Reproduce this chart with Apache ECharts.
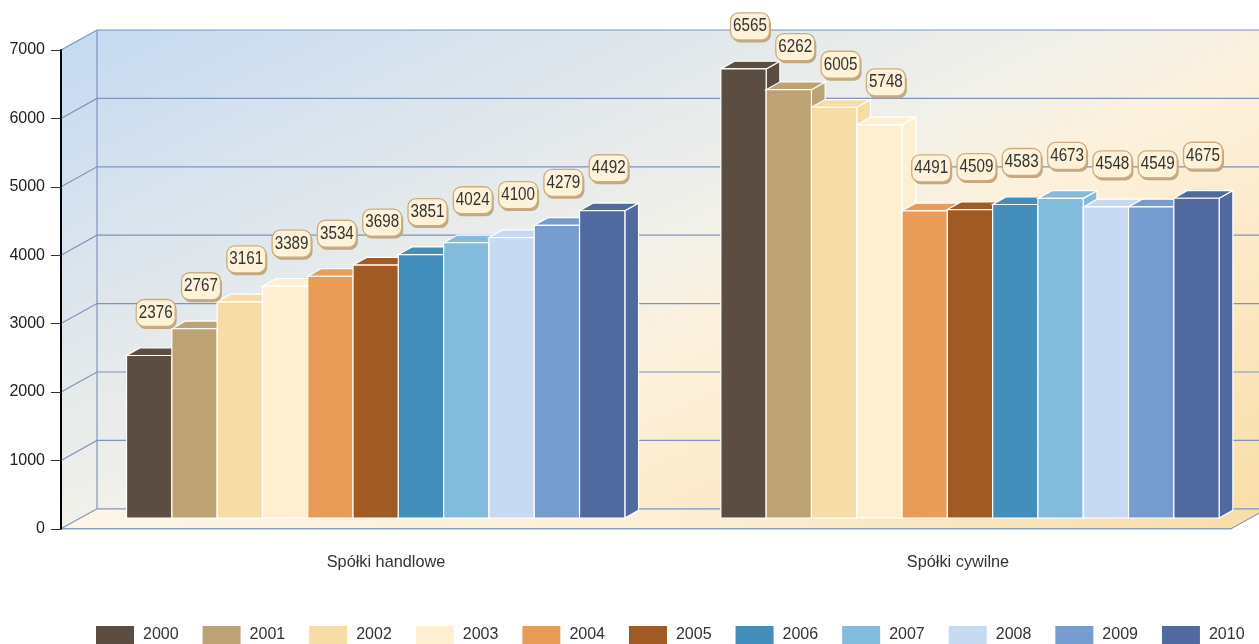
<!DOCTYPE html>
<html>
<head>
<meta charset="utf-8">
<style>html,body{margin:0;padding:0;background:#fff;overflow:hidden}#c{width:1259px;height:644px}</style>
<script src="https://cdn.jsdelivr.net/npm/echarts@6/dist/echarts.min.js"></script>
</head>
<body>
<div id="c"></div>
<script>
const categories = ['Spółki handlowe', 'Spółki cywilne'];
const years = ['2000','2001','2002','2003','2004','2005','2006','2007','2008','2009','2010'];
const handlowe = [2376,2767,3161,3389,3534,3698,3851,4024,4100,4279,4492];
const cywilne = [6565,6262,6005,5748,4491,4509,4583,4673,4548,4549,4675];
const yTicks = [0,1000,2000,3000,4000,5000,6000,7000];
const colors = ['#5C4D42','#BDA273','#F6DDA6','#FEEFD0','#E99C58','#A25A24','#438EBA','#82BBDC','#C6DAF1','#769BCF','#50699E'];

const FONT = '"Liberation Sans",Arial,sans-serif';
const WALL_DX = 36, WALL_DY = 20, BAR_DX = 13.7, BAR_DY = 7.7, BAR_W = 45.3;
const chart = echarts.init(document.getElementById('c'));

const wallGrad = () => new echarts.graphic.LinearGradient(97, 30, 500, 872, [
  {offset:0, color:'#C6DAF1'},{offset:.46, color:'#F1F0E9'},{offset:.58, color:'#FDF1DC'},{offset:1, color:'#F9DEA8'}
], true);
const floorGrad = () => new echarts.graphic.LinearGradient(61, 0, 1267, 0, [
  {offset:0, color:'#FDF6E8'},{offset:.5, color:'#FCEFD6'},{offset:1, color:'#F8DDA6'}
], true);

function renderWalls(params, api) {
  const cs = params.coordSys, L = cs.x, R = cs.x + cs.width, T = cs.y, B = cs.y + cs.height;
  return {type:'group', children:[
    {type:'polygon', shape:{points:[[L+WALL_DX,T-WALL_DY],[R+WALL_DX,T-WALL_DY],[R+WALL_DX,B-WALL_DY],[L+WALL_DX,B-WALL_DY]]}, style:{fill:wallGrad()}, silent:true},
    {type:'polygon', shape:{points:[[L,T],[L+WALL_DX,T-WALL_DY],[L+WALL_DX,B-WALL_DY],[L,B]]}, style:{fill:wallGrad()}, silent:true},
    {type:'polygon', shape:{points:[[L,B],[L+WALL_DX,B-WALL_DY],[R+WALL_DX,B-WALL_DY],[R,B]]}, style:{fill:floorGrad()}, silent:true},
    {type:'line', shape:{x1:L+WALL_DX,y1:T-WALL_DY,x2:L+WALL_DX,y2:B-WALL_DY}, style:{stroke:'#6C85B5',lineWidth:1}, silent:true},
    {type:'line', shape:{x1:R,y1:B,x2:R+WALL_DX,y2:B-WALL_DY}, style:{stroke:'#6C85B5',lineWidth:1}, silent:true}
  ]};
}
function renderGridline(params, api) {
  const cs = params.coordSys, L = cs.x, R = cs.x + cs.width;
  const y = api.coord([0, api.value(1)])[1];
  const isFloor = api.value(1) === 0;
  const kids = [{type:'polyline', shape:{points:[[L,y],[L+WALL_DX,y-WALL_DY],[R+WALL_DX,y-WALL_DY]]}, style:{fill:null,stroke:'#7C93C0',lineWidth:1.2}, silent:true}];
  if (isFloor) kids.push({type:'line', shape:{x1:L,y1:y,x2:R,y2:y}, style:{stroke:'#8EA2C9',lineWidth:1.5}, silent:true});
  return {type:'group', children:kids};
}
function renderBar(params, api) {
  const s = params.seriesIndex - 2;
  const p = api.coord([api.value(0), api.value(1)]);
  const base = api.coord([api.value(0), 0]);
  const w = BAR_W;
  const x = p[0] + (s - 5.5) * w, r = x + w, t = p[1], b = base[1];
  const st = {fill: colors[s], stroke:'#fff', lineWidth:1.2};
  const cx = x + w/2 + 6.5, cy = t - 42.5;
  return {type:'group', children:[
    {type:'polygon', shape:{points:[[r,t],[r+BAR_DX,t-BAR_DY],[r+BAR_DX,b-BAR_DY],[r,b]]}, style:st},
    {type:'polygon', shape:{points:[[x,t],[x+BAR_DX,t-BAR_DY],[r+BAR_DX,t-BAR_DY],[r,t]]}, style:st},
    {type:'rect', shape:{x,y:t,width:w,height:b-t}, style:st},
    {type:'rect', z2:100, shape:{x:cx-19.5+1.5,y:cy-13.5+2.5,width:39,height:27,r:8}, style:{fill:'#C4A77D'}, silent:true},
    {type:'rect', z2:101, shape:{x:cx-19.5,y:cy-13.5,width:39,height:27,r:8}, style:{fill:'#FEF2D8',stroke:'#C9AE85',lineWidth:1.3}, silent:true},
    {type:'text', z2:102, x:cx, y:cy, scaleX:.87, style:{text:String(api.value(1)),font:'17.5px '+FONT,fill:'#333',align:'center',verticalAlign:'middle'}, silent:true}
  ]};
}

const barSeries = years.map((yr, i) => ({
  name: yr, type:'custom', xAxisIndex:1, yAxisIndex:1, z:3,
  itemStyle:{color:colors[i]},
  encode:{x:0,y:1},
  data:[[0,handlowe[i]],[1,cywilne[i]]],
  renderItem: renderBar
}));

chart.setOption({
  animation:false,
  backgroundColor:'#fff',
  grid:[
    {left:61, width:1170, top:50, height:478.8},
    {left:375.7, width:594.3, top:39.2, height:478.8},
    {left:100, width:1144, top:50, height:478.8}
  ],
  xAxis:[
    {gridIndex:0, type:'category', data:categories, show:false},
    {gridIndex:1, type:'category', boundaryGap:false, data:categories, show:false},
    {gridIndex:2, type:'category', data:categories, axisLine:{show:false}, axisTick:{show:false},
     axisLabel:{margin:26, color:'#333', fontSize:16.3, fontFamily:FONT}}
  ],
  yAxis:[
    {gridIndex:0, type:'value', min:0, max:7000, interval:1000, z:5,
     axisLine:{show:true, lineStyle:{color:'#000', width:2}},
     axisTick:{show:true, length:10, lineStyle:{color:'#333', width:1}},
     axisLabel:{margin:16, color:'#222', fontSize:16, fontFamily:FONT, formatter:v=>String(v)},
     splitLine:{show:false}},
    {gridIndex:1, type:'value', min:0, max:7000, interval:1000, show:false},
    {gridIndex:2, type:'value', min:0, max:7000, interval:1000, show:false}
  ],
  legend:{
    left:96, top:626, width:1200, padding:0, icon:'rect', itemWidth:38, itemHeight:18, itemGap:24,
    textStyle:{color:'#333', fontSize:16, fontFamily:FONT, padding:[4,0,0,4]},
    selectedMode:false, data:years
  },
  series:[
    {type:'custom', xAxisIndex:0, yAxisIndex:0, z:1, silent:true, encode:{x:0,y:1}, data:[[0,0]], renderItem:renderWalls},
    {type:'custom', xAxisIndex:0, yAxisIndex:0, z:2, silent:true, encode:{x:0,y:1}, data:yTicks.map(v=>[0,v]), renderItem:renderGridline},
    ...barSeries
  ]
});
</script>
</body>
</html>
